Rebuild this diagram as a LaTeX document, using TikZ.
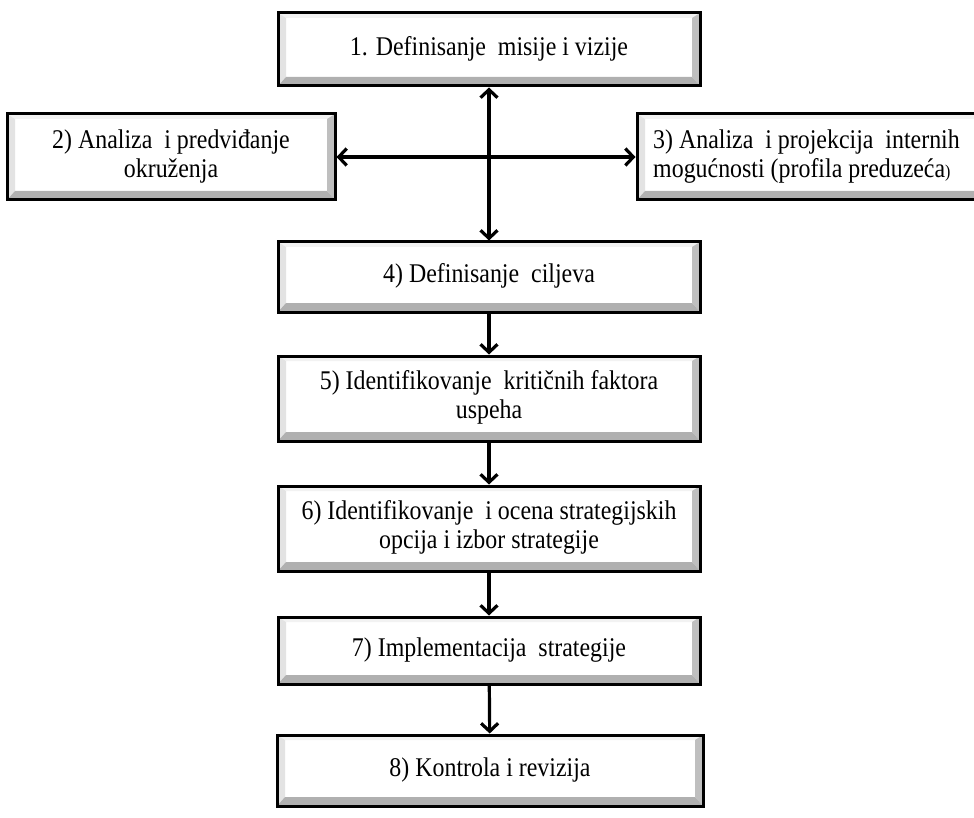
\documentclass[tikz,border=0pt]{standalone}
\usepackage{fontspec}
\setmainfont{Liberation Serif}[FakeStretch=0.885]
\usetikzlibrary{arrows.meta,calc}
\newcommand{\bxt}[2][0pt]{\raisebox{-3pt}{\begin{tabular}{@{}c@{}}#2\end{tabular}}\hspace*{#1}}
\newcommand{\bxl}[2][0pt]{\raisebox{-3pt}{\begin{tabular}{@{}l@{}}#2\end{tabular}}\hspace*{#1}}
\tikzset{
  bev/.style={rectangle, draw=black, line width=3pt, fill=white, inner sep=0pt,
    font=\fontsize{27}{29}\selectfont,
    path picture={
      \path (path picture bounding box.south west) coordinate (pa)
            (path picture bounding box.north east) coordinate (pb);
      \fill[gray!10] (pb -| pa) -- (pb) -- ($(pb)+(-8pt,-5pt)$) -- ($(pb -| pa)+(8pt,-5pt)$) -- cycle;
      \fill[gray!22] (pa) -- (pb -| pa) -- ($(pb -| pa)+(8pt,-5pt)$) -- ($(pa)+(8pt,9pt)$) -- cycle;
      \fill[gray!50] (pa -| pb) -- (pb) -- ($(pb)+(-8pt,-5pt)$) -- ($(pa -| pb)+(-8pt,9pt)$) -- cycle;
      \fill[gray!62] (pa) -- (pa -| pb) -- ($(pa -| pb)+(-8pt,9pt)$) -- ($(pa)+(8pt,9pt)$) -- cycle;
    }},
  bw/.style={minimum width=422pt},
  conn/.style={line width=3.2pt, -{Straight Barb[length=8pt,width=17pt]}},
  dconn/.style={line width=3.2pt, {Straight Barb[length=8pt,width=17pt]}-{Straight Barb[length=8pt,width=17pt]}}
}
\begin{document}
\begin{tikzpicture}[x=1pt,y=-1pt]
\clip (0,0) rectangle (974,818);
\fill[white] (0,0) rectangle (974,818);

\node[bev,bw,minimum height=73pt] (b1) at (489,49.5) {\bxt{1. Definisanje\ \ misije i vizije}};
\node[bev,minimum width=328pt,minimum height=86pt] (b2) at (171,157) {\bxt{2) Analiza\ \ i predviđanje\\okruženja}};
\node[bev,minimum width=380pt,minimum height=86pt] (b3) at (827,157) {\bxl[41pt]{3) Analiza\ \ i projekcija\ \ internih\\mogućnosti (profila preduzeća{\fontsize{18}{20}\selectfont)}}};
\node[bev,bw,minimum height=70pt] (b4) at (489,277) {\bxt{4) Definisanje\ \ ciljeva}};
\node[bev,bw,minimum height=85pt] (b5) at (489,398.5) {\bxt{5) Identifikovanje\ \ kritičnih faktora\\uspeha}};
\node[bev,bw,minimum height=85pt] (b6) at (489,528.5) {\bxt{6) Identifikovanje\ \ i ocena strategijskih\\opcija i izbor strategije}};
\node[bev,bw,minimum height=67pt] (b7) at (489,650.5) {\bxt{7) Implementacija\ \ strategije}};
\node[bev,minimum width=426pt,minimum height=71pt] (b8) at (490,770.5) {\bxt{8) Kontrola i revizija}};

\draw[dconn] (b1) -- (b4);
\draw[dconn] (b2) -- (b3);
\draw[conn] (b4) -- (b5);
\draw[conn] (b5) -- (b6);
\draw[conn] (b6) -- (b7);
\draw[conn] (b7) -- (b8);
\end{tikzpicture}
\end{document}
